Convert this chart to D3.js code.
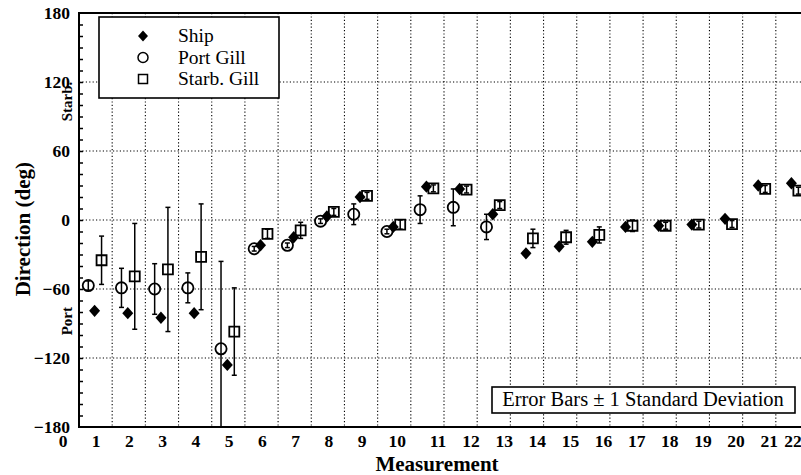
<!DOCTYPE html>
<html>
<head>
<meta charset="utf-8">
<script src="https://cdn.jsdelivr.net/npm/d3@7"></script>
<style>
  body { margin: 0; background: #fff; }
  svg { display: block; }
  text { font-family: "Liberation Serif", "Times New Roman", Times, serif; fill: #000; }
</style>
</head>
<body>
<svg id="chart" width="801" height="475"></svg>
<script>
// Measurement numbers and the three direction series (degrees, + = starboard, - = port)
const measurements = [1, 2, 3, 4, 5, 6, 7, 8, 9, 10, 11, 12, 13, 14, 15, 16, 17, 18, 19, 20, 21, 22];
const ship        = [-79, -81, -85, -81, -126, -22, -15, 3, 20, -6, 29, 27, 5, -29, -23, -19, -6, -5, -4, 1, 30, 32];
const portGill    = [-57, -59, -60, -59, -112, -25, -22, -1, 5, -10, 9, 11, -6, null, null, null, null, null, null, null, null, null];
const portGillSd  = [4, 17, 22, 13, 76, 2, 2, 2, 9, 2, 12, 16, 11, null, null, null, null, null, null, null, null, null];
const starbGill   = [-35, -49, -43, -32, -97, -12, -9, 7, 21, -4, 27.5, 26.5, 13, -16, -15, -13, -5, -5, -4, -3.5, 27, 25.5];
const starbGillSd = [21, 46, 54, 46, 38, 4, 7, 3, 3, 4, 3, 3, 3, 8, 6, 7, 5, 3, 3, 3, 3, 3];

const yTicks = [-180, -120, -60, 0, 60, 120, 180];
const yGrid = [-120, -60, 0, 60, 120];
const xTickLabels = ["0", "1", "2", "3", "4", "5", "6", "7", "8", "9", "10", "11",
                     "12", "13", "14", "15", "16", "17", "18", "19", "20", "21", "22"];
const legendLabels = ["Ship", "Port Gill", "Starb. Gill"];

const svg = d3.select("#chart");

// plot frame
const plotLeft = 79, plotRight = 809, plotTop = 13, plotBottom = 427;

const x = d3.scaleLinear().domain([0.5, 22.5]).range([plotLeft, plotRight]);
const y = d3.scaleLinear().domain([-180, 180]).range([plotBottom, plotTop]);

// typed label row under the axis (two-digit labels sit a little further right)
const xLabel = d3.scaleLinear()
  .domain([0, 9, 10, 11, 21, 22])
  .range([x(0) + 0.6, x(9) + 1, x(10) + 3, x(11) + 10.5, x(21) + 10, x(22) + 0.5]);

// horizontal offsets of the three series inside each measurement cell
const offset = { port: -0.22, ship: -0.03, starb: 0.18 };

svg.append("defs").append("clipPath").attr("id", "plotClip")
  .append("rect").attr("x", plotLeft).attr("y", plotTop)
  .attr("width", plotRight - plotLeft).attr("height", plotBottom - plotTop);

// dotted grid
const grid = svg.append("g").attr("stroke", "#000").attr("stroke-width", 1.1)
  .attr("stroke-dasharray", "1.2,2.2");
grid.selectAll("line.v").data(d3.range(1, 22)).join("line")
  .attr("class", "v")
  .attr("x1", d => x(d + 0.5)).attr("x2", d => x(d + 0.5))
  .attr("y1", plotTop).attr("y2", plotBottom);
grid.selectAll("line.h").data(yGrid).join("line")
  .attr("class", "h")
  .attr("x1", plotLeft).attr("x2", plotRight)
  .attr("y1", d => y(d)).attr("y2", d => y(d));

// frame
svg.append("rect").attr("x", plotLeft).attr("y", plotTop)
  .attr("width", plotRight - plotLeft).attr("height", plotBottom - plotTop)
  .attr("fill", "none").attr("stroke", "#000").attr("stroke-width", 2);

// left axis labels
const yAxis = d3.axisLeft(y).tickValues(yTicks).tickSize(0).tickPadding(9);
const gy = svg.append("g").attr("transform", `translate(${plotLeft},0)`).call(yAxis);
gy.select(".domain").remove();
gy.selectAll("text").style("font-family", '"Liberation Serif", serif')
  .style("font-size", "17.5px").style("font-weight", "bold");

// inward minor ticks every 10 degrees
const minor = d3.axisRight(y).tickValues(d3.range(-170, 180, 10)).tickSize(4).tickFormat("");
const gm = svg.append("g").attr("transform", `translate(${plotLeft},0)`).call(minor);
gm.select(".domain").remove();
gm.selectAll("line").attr("stroke-width", 1.5);

// bottom labels
svg.append("g").selectAll("text").data(xTickLabels).join("text")
  .attr("x", (d, i) => xLabel(i))
  .attr("y", 447)
  .attr("text-anchor", "middle")
  .style("font-size", "17.5px").style("font-weight", "bold")
  .text(d => d);

// axis titles
svg.append("text")
  .attr("transform", `translate(30,${y(-8)}) rotate(-90)`)
  .attr("text-anchor", "middle")
  .style("font-size", "21px").style("font-weight", "bold")
  .text("Direction  (deg)");
svg.append("text")
  .attr("x", 437).attr("y", 471)
  .attr("text-anchor", "middle")
  .style("font-size", "21px").style("font-weight", "bold")
  .text("Measurement");
svg.append("text")
  .attr("transform", `translate(72,${y(103)}) rotate(-90)`)
  .attr("text-anchor", "middle")
  .style("font-size", "15px").style("font-weight", "bold")
  .text("Starb.");
svg.append("text")
  .attr("transform", `translate(72,${y(-88)}) rotate(-90)`)
  .attr("text-anchor", "middle")
  .style("font-size", "15px").style("font-weight", "bold")
  .text("Port");

// marker shapes
const diamondPath = (hw, hh) => `M0,${-hh}L${hw},0L0,${hh}L${-hw},0Z`;
const squarePath = s => `M${-s / 2},${-s / 2}h${s}v${s}h${-s}Z`;

const plot = svg.append("g").attr("clip-path", "url(#plotClip)");

function errorBars(g, vals, sds, off) {
  const rows = measurements.map((m, i) => ({ m, v: vals[i], sd: sds[i] }))
    .filter(d => d.v != null && d.sd);
  const eb = g.append("g").attr("stroke", "#000").attr("stroke-width", 1.5);
  eb.selectAll("line.bar").data(rows).join("line").attr("class", "bar")
    .attr("x1", d => x(d.m + off)).attr("x2", d => x(d.m + off))
    .attr("y1", d => y(d.v + d.sd)).attr("y2", d => y(d.v - d.sd));
  eb.selectAll("line.capT").data(rows).join("line").attr("class", "capT")
    .attr("x1", d => x(d.m + off) - 2.5).attr("x2", d => x(d.m + off) + 2.5)
    .attr("y1", d => y(d.v + d.sd)).attr("y2", d => y(d.v + d.sd));
  eb.selectAll("line.capB").data(rows).join("line").attr("class", "capB")
    .attr("x1", d => x(d.m + off) - 2.5).attr("x2", d => x(d.m + off) + 2.5)
    .attr("y1", d => y(d.v - d.sd)).attr("y2", d => y(d.v - d.sd));
}

// Port gill: open circles
const portRows = measurements.map((m, i) => ({ m, v: portGill[i] })).filter(d => d.v != null);
plot.append("g").selectAll("circle").data(portRows).join("circle")
  .attr("cx", d => x(d.m + offset.port)).attr("cy", d => y(d.v))
  .attr("r", 5.6).attr("fill", "#fff").attr("stroke", "#000").attr("stroke-width", 1.8);
errorBars(plot, portGill, portGillSd, offset.port);

// Starboard gill: open squares
plot.append("g").selectAll("path").data(measurements.map((m, i) => ({ m, v: starbGill[i] }))).join("path")
  .attr("transform", d => `translate(${x(d.m + offset.starb)},${y(d.v)})`)
  .attr("d", squarePath(10))
  .attr("fill", "#fff").attr("stroke", "#000").attr("stroke-width", 1.8);
errorBars(plot, starbGill, starbGillSd, offset.starb);

// Ship: filled diamonds
plot.append("g").selectAll("path").data(measurements.map((m, i) => ({ m, v: ship[i] }))).join("path")
  .attr("transform", d => `translate(${x(d.m + offset.ship)},${y(d.v)})`)
  .attr("d", diamondPath(5.5, 6.2))
  .attr("fill", "#000");

// legend
const lg = svg.append("g");
lg.append("rect").attr("x", 99).attr("y", 17).attr("width", 180).attr("height", 81)
  .attr("fill", "#fff").attr("stroke", "#000").attr("stroke-width", 1.6);
const legendRow = d3.scalePoint().domain(legendLabels).range([42, 85]);
const lgMarks = [
  g => g.append("path").attr("d", diamondPath(5, 5.6)).attr("fill", "#000"),
  g => g.append("circle").attr("r", 5).attr("fill", "#fff").attr("stroke", "#000").attr("stroke-width", 1.5),
  g => g.append("path").attr("d", squarePath(9)).attr("fill", "#fff").attr("stroke", "#000").attr("stroke-width", 1.5)
];
legendLabels.forEach((lab, i) => {
  const row = legendRow(lab);
  lgMarks[i](lg.append("g").attr("transform", `translate(143,${row - 6})`));
  lg.append("text").attr("x", 178).attr("y", row)
    .style("font-size", "19.5px").text(lab);
});

// error bar note
const note = svg.append("g");
note.append("rect").attr("x", 492).attr("y", 387).attr("width", 303).attr("height", 26)
  .attr("fill", "#fff").attr("stroke", "#000").attr("stroke-width", 1.6);
note.append("text").attr("x", 643).attr("y", 406).attr("text-anchor", "middle")
  .style("font-size", "20.5px").text("Error Bars \u00B1 1 Standard Deviation");
</script>
</body>
</html>
